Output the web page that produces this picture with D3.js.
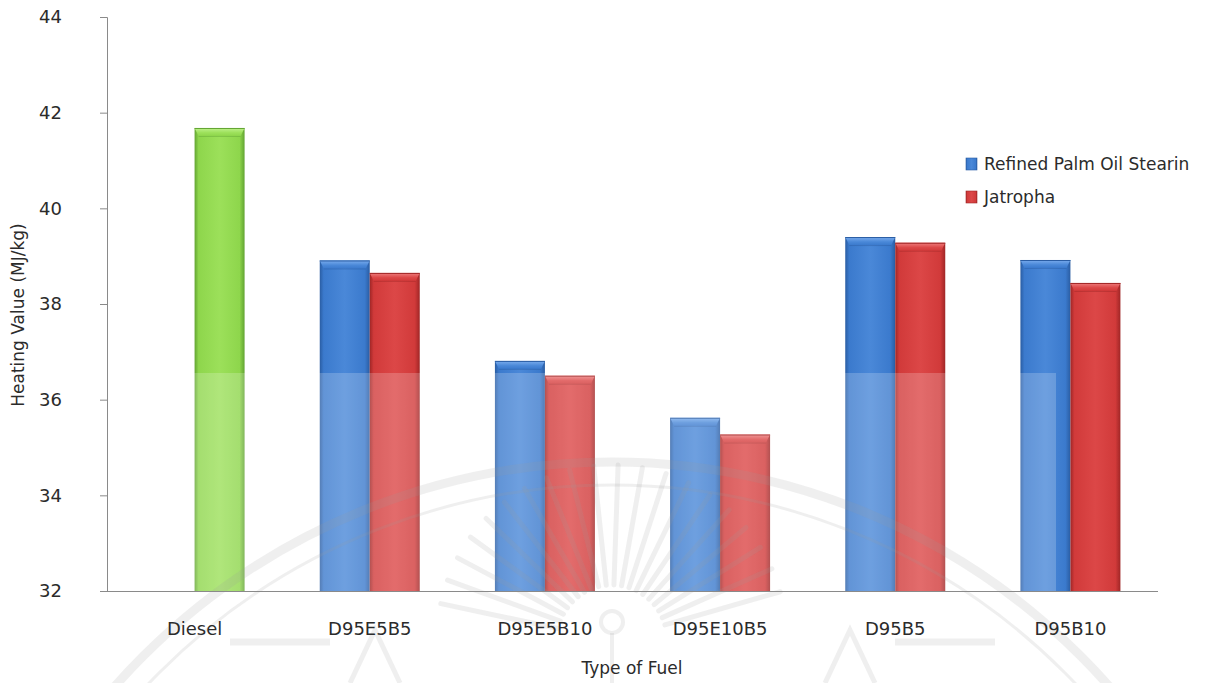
<!DOCTYPE html>
<html>
<head>
<meta charset="utf-8">
<script src="https://cdn.jsdelivr.net/npm/d3@7"></script>
<style>
  html, body { margin: 0; padding: 0; background: #ffffff; }
  svg { display: block; font-family: "DejaVu Sans", sans-serif; }
</style>
</head>
<body>
<svg id="chart" width="1226" height="683"></svg>
<script>
// Heating value of fuel blends (MJ/kg)
const categories = ["Diesel", "D95E5B5", "D95E5B10", "D95E10B5", "D95B5", "D95B10"];
const dieselValues = [41.68, null, null, null, null, null];
const palmStearinValues = [null, 38.91, 36.81, 35.62, 39.40, 38.92];
const jatrophaValues = [null, 38.65, 36.50, 35.27, 39.28, 38.44];
const seriesNames = ["Refined Palm Oil Stearin", "Jatropha"];
const yTicks = [32, 34, 36, 38, 40, 42, 44];

(function () {
const svg = d3.select("#chart");
const W = 1226, H = 683;
const plotLeft = 107, plotRight = 1158, plotTop = 17, plotBottom = 591;

const x = d3.scaleBand().domain(categories).range([plotLeft, plotRight]).paddingInner(0).paddingOuter(0);
const slot = d3.scaleBand().domain(["a", "b"]).range([0, 100]);
const groupOffset = (x.bandwidth() - 100) / 2;
const y = d3.scaleLinear().domain([32, 44]).range([plotBottom, plotTop]);

// gradients for the bevelled bars
const defs = svg.append("defs");
const palette = {
  blue:  { edge: "#2a5da3", base: "#3b7acd", light: "#4a88d8", cap: "#7badee" },
  red:   { edge: "#a02626", base: "#d13a3a", light: "#dc4747", cap: "#ee7d7d" },
  green: { edge: "#62a432", base: "#8ed64c", light: "#9ce05a", cap: "#c0f28e" }
};
Object.entries(palette).forEach(([k, c]) => {
  const g = defs.append("linearGradient").attr("id", "body-" + k).attr("x1", 0).attr("x2", 1).attr("y1", 0).attr("y2", 0);
  [[0, c.edge], [0.08, c.base], [0.5, c.light], [0.9, c.base], [1, c.edge]].forEach(([o, col]) =>
    g.append("stop").attr("offset", o).attr("stop-color", col));
  const t = defs.append("linearGradient").attr("id", "cap-" + k).attr("x1", 0).attr("x2", 0).attr("y1", 0).attr("y2", 1);
  [[0, c.cap], [0.6, c.light], [1, c.base]].forEach(([o, col]) =>
    t.append("stop").attr("offset", o).attr("stop-color", col));
});

// assemble bar records from the arrays
const bars = [];
categories.forEach((cat, i) => {
  if (dieselValues[i] != null) bars.push({ cat, v: dieselValues[i], s: "b", color: "green" });
  if (palmStearinValues[i] != null) bars.push({ cat, v: palmStearinValues[i], s: "a", color: "blue" });
  if (jatrophaValues[i] != null) bars.push({ cat, v: jatrophaValues[i], s: "b", color: "red" });
});

const gBars = svg.append("g");
const bw = slot.bandwidth();
bars.forEach(d => {
  const bx = x(d.cat) + groupOffset + slot(d.s);
  const by = y(d.v);
  const bh = y(32) - by;
  const g = gBars.append("g");
  g.append("rect").attr("x", bx).attr("y", by).attr("width", bw).attr("height", bh)
    .attr("fill", `url(#body-${d.color})`);
  // bevelled top
  g.append("path")
    .attr("d", `M${bx},${by} L${bx + bw},${by} L${bx + bw - 4},${by + 8} L${bx + 4},${by + 8} Z`)
    .attr("fill", `url(#cap-${d.color})`);
  g.append("line").attr("x1", bx).attr("x2", bx + bw).attr("y1", by + 0.5).attr("y2", by + 0.5)
    .attr("stroke", palette[d.color].edge).attr("stroke-width", 1);
  g.append("line").attr("x1", bx + 4).attr("x2", bx + bw - 4).attr("y1", by + 8.5).attr("y2", by + 8.5)
    .attr("stroke", palette[d.color].edge).attr("stroke-opacity", 0.45).attr("stroke-width", 1);
});

// light wash over the lower part of the plot
svg.append("rect").attr("x", 150).attr("y", 373).attr("width", 906).attr("height", H - 373)
  .attr("fill", "#ffffff").attr("opacity", 0.2);

// faint seal in the background
const seal = svg.append("g").attr("fill", "none").attr("stroke", "#9a9a9a").attr("stroke-opacity", 0.16);
const cx = 612, cy = 1125;
seal.append("circle").attr("cx", cx).attr("cy", cy).attr("r", 663).attr("stroke-width", 9);
seal.append("circle").attr("cx", cx).attr("cy", cy).attr("r", 640).attr("stroke-width", 3);
const rc = { x: 612, y: 640 };
d3.range(-168, -10, 8).forEach(a => {
  const t = a * Math.PI / 180;
  seal.append("line")
    .attr("x1", rc.x + Math.cos(t) * 55).attr("y1", rc.y + Math.sin(t) * 55)
    .attr("x2", rc.x + Math.cos(t) * 175).attr("y2", rc.y + Math.sin(t) * 175)
    .attr("stroke-width", 5).attr("stroke-linecap", "round");
});
seal.append("line").attr("x1", 230).attr("x2", 330).attr("y1", 642).attr("y2", 642).attr("stroke-width", 7);
seal.append("line").attr("x1", 895).attr("x2", 995).attr("y1", 642).attr("y2", 642).attr("stroke-width", 7);
seal.append("path").attr("d", "M350,683 L375,630 L400,683").attr("stroke-width", 5);
seal.append("path").attr("d", "M825,683 L850,630 L875,683").attr("stroke-width", 5);
seal.append("circle").attr("cx", 612).attr("cy", 622).attr("r", 11).attr("stroke-width", 4);
seal.append("line").attr("x1", 612).attr("x2", 612).attr("y1", 633).attr("y2", 683).attr("stroke-width", 4);

// axes
const yAxis = svg.append("g").attr("transform", `translate(${plotLeft},0)`)
  .call(d3.axisLeft(y).tickValues(yTicks).tickSize(7).tickPadding(38));
yAxis.select(".domain").attr("stroke", "#8a8a8a");
yAxis.selectAll(".tick line").attr("stroke", "#8a8a8a");
yAxis.selectAll(".tick text").attr("font-size", 18).attr("fill", "#2b2b2b")
  .attr("font-family", "DejaVu Sans, sans-serif");

const xAxis = svg.append("g").attr("transform", `translate(0,${plotBottom})`)
  .call(d3.axisBottom(x).tickSize(0).tickPadding(31));
xAxis.select(".domain").attr("stroke", "#8a8a8a").attr("d", `M${plotLeft - 7},0.5H${plotRight}`);
xAxis.selectAll(".tick text").attr("font-size", 18).attr("fill", "#2b2b2b")
  .attr("font-family", "DejaVu Sans, sans-serif");

// axis titles
svg.append("text").attr("x", 632).attr("y", 674).attr("text-anchor", "middle")
  .attr("font-size", 17).attr("fill", "#2b2b2b").text("Type of Fuel");
svg.append("text").attr("transform", "translate(24,315) rotate(-90)").attr("text-anchor", "middle")
  .attr("font-size", 17).attr("fill", "#2b2b2b").text("Heating Value (MJ/kg)");

// legend
const legend = svg.append("g").attr("transform", "translate(966,158)");
["blue", "red"].forEach((c, i) => {
  const row = legend.append("g").attr("transform", `translate(0,${i * 33})`);
  row.append("rect").attr("width", 11).attr("height", 12).attr("fill", `url(#body-${c})`)
    .attr("stroke", palette[c].edge).attr("stroke-width", 0.6);
  row.append("text").attr("x", 18).attr("y", 12).attr("font-size", 17).attr("fill", "#2b2b2b")
    .text(seriesNames[i]);
});
})();
</script>
</body>
</html>
